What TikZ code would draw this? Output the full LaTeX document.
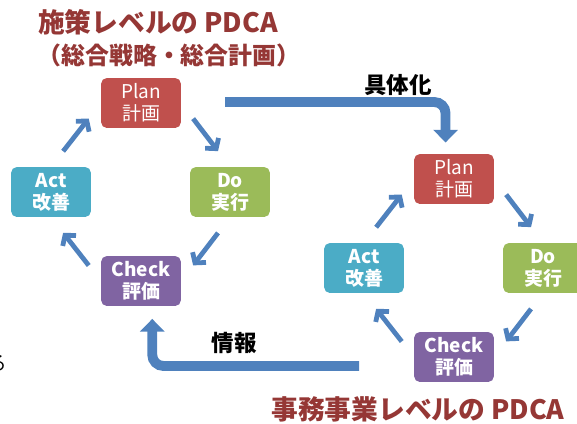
\documentclass[tikz,border=0pt]{standalone}
\usepackage{fontspec}
\setmainfont{Noto Sans CJK JP}
\usetikzlibrary{arrows.meta}

\definecolor{planred}{HTML}{C0504D}
\definecolor{dogreen}{HTML}{9BBB59}
\definecolor{checkpurple}{HTML}{8064A2}
\definecolor{actblue}{HTML}{4BACC6}
\definecolor{flowblue}{HTML}{4F81BD}
\definecolor{titlered}{HTML}{953735}

\newcommand{\boxfont}{\fontsize{13.5}{15.5}\selectfont}

\tikzset{
  pdcabox/.style={rounded corners=4pt, minimum width=56.7pt, minimum height=35.5pt,
    inner sep=0pt, text=white, align=center, font=\boxfont\bfseries},
  cyc/.style={draw=flowblue, line width=3.4pt, shorten <=14pt, shorten >=14pt,
    -{Straight Barb[length=5pt,width=12pt]}},
  bigflow/.style={draw=flowblue, line width=7pt, rounded corners=8pt,
    -{Triangle[length=9pt,width=17pt]}},
  title/.style={text=titlered, font=\fontsize{19}{22}\selectfont\bfseries},
  flowlabel/.style={font=\fontsize{16}{18}\selectfont\bfseries}
}

\NewDocumentCommand{\pdcacycle}{mmm}{%
\begin{scope}[shift={(#1,#2)}]%
\node[pdcabox, fill=planred, font=\boxfont] (plan#3) at (0,0) {Plan\\計画};
\node[pdcabox, fill=dogreen] (do#3) at (89,89) {Do\\実行};
\node[pdcabox, fill=checkpurple] (check#3) at (0,178) {Check\\評価};
\node[pdcabox, fill=actblue] (act#3) at (-90,89) {Act\\改善};
\draw[cyc] (act#3.north) -- (plan#3.west);
\draw[cyc] (plan#3.east) -- (do#3.north);
\draw[cyc] (do#3.south) -- (check#3.east);
\draw[cyc] (check#3.west) -- (act#3.south);
\end{scope}%
}

\begin{document}
\begin{tikzpicture}[x=0.025cm, y=-0.025cm]
  \useasboundingbox (0,0) rectangle (577,423);

  % titles
  \node[title] (strat) at (158,22) {施策レベルの PDCA};
  \node[title, font=\fontsize{17}{20}\selectfont\bfseries] (stratsub) at (169,55) {（総合戦略・総合計画）};
  \node[title] (office) at (418,409) {事務事業レベルの PDCA};

  % the two cycles
  \pdcacycle{141}{103}{1}
  \pdcacycle{454}{179}{2}

  % between the levels
  \coordinate (specstart) at (225,102);
  \draw[bigflow, shorten >=8pt] (specstart) -| ([xshift=-6pt]plan2.north);
  \node[flowlabel] (spec) at (398,85) {具体化};

  \coordinate (infostart) at (359,366);
  \draw[bigflow, shorten >=9pt] (infostart) -| ([xshift=8pt]check1.south);
  \node[flowlabel] (info) at (234,343) {情報};

  % cut-off text at the left edge
  \node[font=\fontsize{14}{16}\selectfont] (cut) at (-3,363) {る};
\end{tikzpicture}
\end{document}
